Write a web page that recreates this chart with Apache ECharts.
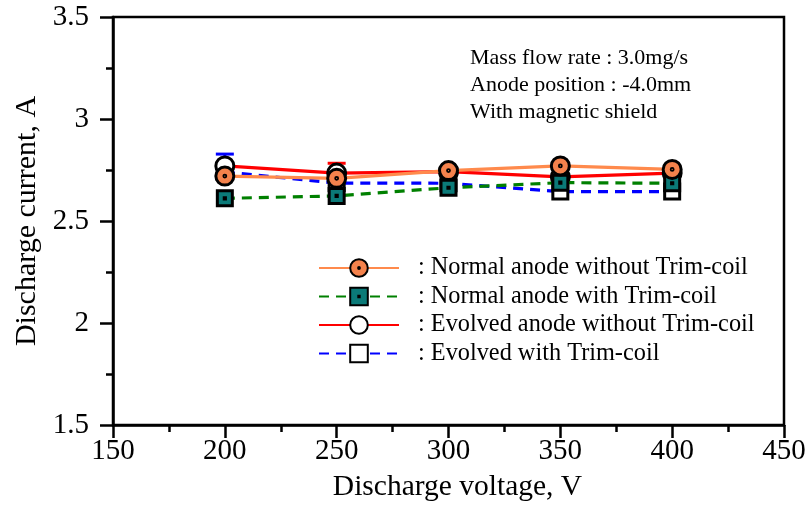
<!DOCTYPE html>
<html><head><meta charset="utf-8">
<script src="https://cdn.jsdelivr.net/npm/echarts@6/dist/echarts.min.js"></script>
<style>html,body{margin:0;padding:0;background:#fff}#c{width:809px;height:515px}</style>
</head><body><div id="c"></div>
<script>
var voltage = [200, 250, 300, 350, 400];
var normalNoTrim = [2.72, 2.709, 2.747, 2.77, 2.753];
var normalTrim = [2.611, 2.623, 2.663, 2.688, 2.685];
var evolvedNoTrim = [2.77, 2.735, 2.742, 2.716, 2.735];
var evolvedTrim = [2.74, 2.686, 2.685, 2.644, 2.644];
var evolvedNoTrimErrUp = [null, 0.048, null, null, null];
var evolvedTrimErrUp = [0.088, null, null, null, null];
var seriesNames = [': Normal anode without Trim-coil', ': Normal anode with Trim-coil', ': Evolved anode without Trim-coil', ': Evolved with Trim-coil'];
var notes = ['Mass flow rate : 3.0mg/s', 'Anode position : -4.0mm', 'With magnetic shield'];
var xTitle = 'Discharge voltage, V';
var yTitle = 'Discharge current, A';

var FONT = '"Liberation Serif", "Times New Roman", serif';
function pairs(ys) { return voltage.map(function (x, i) { return [x, ys[i]]; }); }
function errData(ys, errs) {
  var out = [];
  voltage.forEach(function (x, i) { if (errs[i] != null) out.push([x, ys[i], ys[i] + errs[i]]); });
  return out;
}
function errSeries(ys, errs, color) {
  return {
    type: 'custom', z: 1, silent: true,
    data: errData(ys, errs),
    renderItem: function (params, api) {
      var p0 = api.coord([api.value(0), api.value(1)]);
      var p1 = api.coord([api.value(0), api.value(2)]);
      return { type: 'group', children: [
        { type: 'line', shape: { x1: p0[0], y1: p0[1], x2: p1[0], y2: p1[1] }, style: { stroke: color, lineWidth: 3 } },
        { type: 'line', shape: { x1: p1[0] - 9, y1: p1[1], x2: p1[0] + 9, y2: p1[1] }, style: { stroke: color, lineWidth: 3 } }
      ]};
    }
  };
}
var circDot = 'path://M10,0A10,10,0,1,1,10,20A10,10,0,1,1,10,0Z M10,9A1,1,0,1,1,10,11A1,1,0,1,1,10,9Z';
var sqDot = 'path://M0,0L20,0L20,20L0,20Z M9.2,9.2L10.8,9.2L10.8,10.8L9.2,10.8Z';

var chart = echarts.init(document.getElementById('c'), null, { renderer: 'canvas' });
chart.setOption({
  animation: false,
  backgroundColor: '#fff',
  textStyle: { fontFamily: FONT },
  grid: { left: 113, right: 25, top: 17, bottom: 90, show: true, borderColor: '#000', borderWidth: 2.5, backgroundColor: 'transparent' },
  xAxis: {
    type: 'value', min: 150, max: 450, interval: 50,
    name: xTitle, nameLocation: 'middle', nameGap: 47,
    nameTextStyle: { fontFamily: FONT, fontSize: 29.5, color: '#000', padding: [0, 0, 0, 18] },
    axisLine: { show: true, onZero: false, lineStyle: { color: '#000', width: 2.5 } },
    axisTick: { show: true, inside: false, length: 13, lineStyle: { color: '#000', width: 2.5 } },
    minorTick: { show: true, splitNumber: 2, length: 7, lineStyle: { color: '#000', width: 2.5 } },
    axisLabel: { fontFamily: FONT, fontSize: 29, color: '#000', margin: 12 },
    splitLine: { show: false }
  },
  yAxis: {
    type: 'value', min: 1.5, max: 3.5, interval: 0.5,
    name: yTitle, nameLocation: 'middle', nameGap: 71, nameRotate: 90,
    nameTextStyle: { fontFamily: FONT, fontSize: 30, color: '#000' },
    axisLine: { show: true, onZero: false, lineStyle: { color: '#000', width: 2.5 } },
    axisTick: { show: true, inside: false, length: 13, lineStyle: { color: '#000', width: 2.5 } },
    minorTick: { show: true, splitNumber: 2, length: 7, lineStyle: { color: '#000', width: 2.5 } },
    axisLabel: { fontFamily: FONT, fontSize: 29, color: '#000', margin: 24 },
    splitLine: { show: false }
  },
  legend: {
    orient: 'vertical', left: 313, top: 251,
    itemWidth: 80, itemHeight: 22, itemGap: 4.5,
    data: seriesNames,
    textStyle: { fontFamily: FONT, fontSize: 24.3, lineHeight: 22, color: '#000', padding: [0, 0, 0, 14] },
    selectedMode: false
  },
  graphic: notes.map(function (t, i) {
    return { type: 'text', left: 470, top: 47 + i * 27, style: { text: t, font: '22px ' + FONT, fill: '#000' } };
  }),
  series: [
    errSeries(evolvedTrim, evolvedTrimErrUp, '#0000ff'),
    errSeries(evolvedNoTrim, evolvedNoTrimErrUp, '#ff0000'),
    {
      name: seriesNames[3], type: 'line', data: pairs(evolvedTrim), z: 2,
      symbol: 'rect', symbolSize: 15,
      lineStyle: { color: '#0000ff', width: 3.2, type: [10, 7] },
      itemStyle: { color: '#fff', borderColor: '#000', borderWidth: 3 }
    },
    {
      name: seriesNames[2], type: 'line', data: pairs(evolvedNoTrim), z: 3,
      symbol: 'circle', symbolSize: 18,
      lineStyle: { color: '#ff0000', width: 3.2 },
      itemStyle: { color: '#fff', borderColor: '#000', borderWidth: 3 }
    },
    {
      name: seriesNames[1], type: 'line', data: pairs(normalTrim), z: 4,
      symbol: sqDot, symbolSize: 15,
      lineStyle: { color: '#008000', width: 3.2, type: [10, 7] },
      itemStyle: { color: '#0b7a78', borderColor: '#000', borderWidth: 3 }
    },
    {
      name: seriesNames[0], type: 'line', data: pairs(normalNoTrim), z: 5,
      symbol: circDot, symbolSize: 18,
      lineStyle: { color: '#ff8a4c', width: 3.2 },
      itemStyle: { color: '#f4824c', borderColor: '#000', borderWidth: 3 }
    }
  ]
});
</script>
</body></html>
